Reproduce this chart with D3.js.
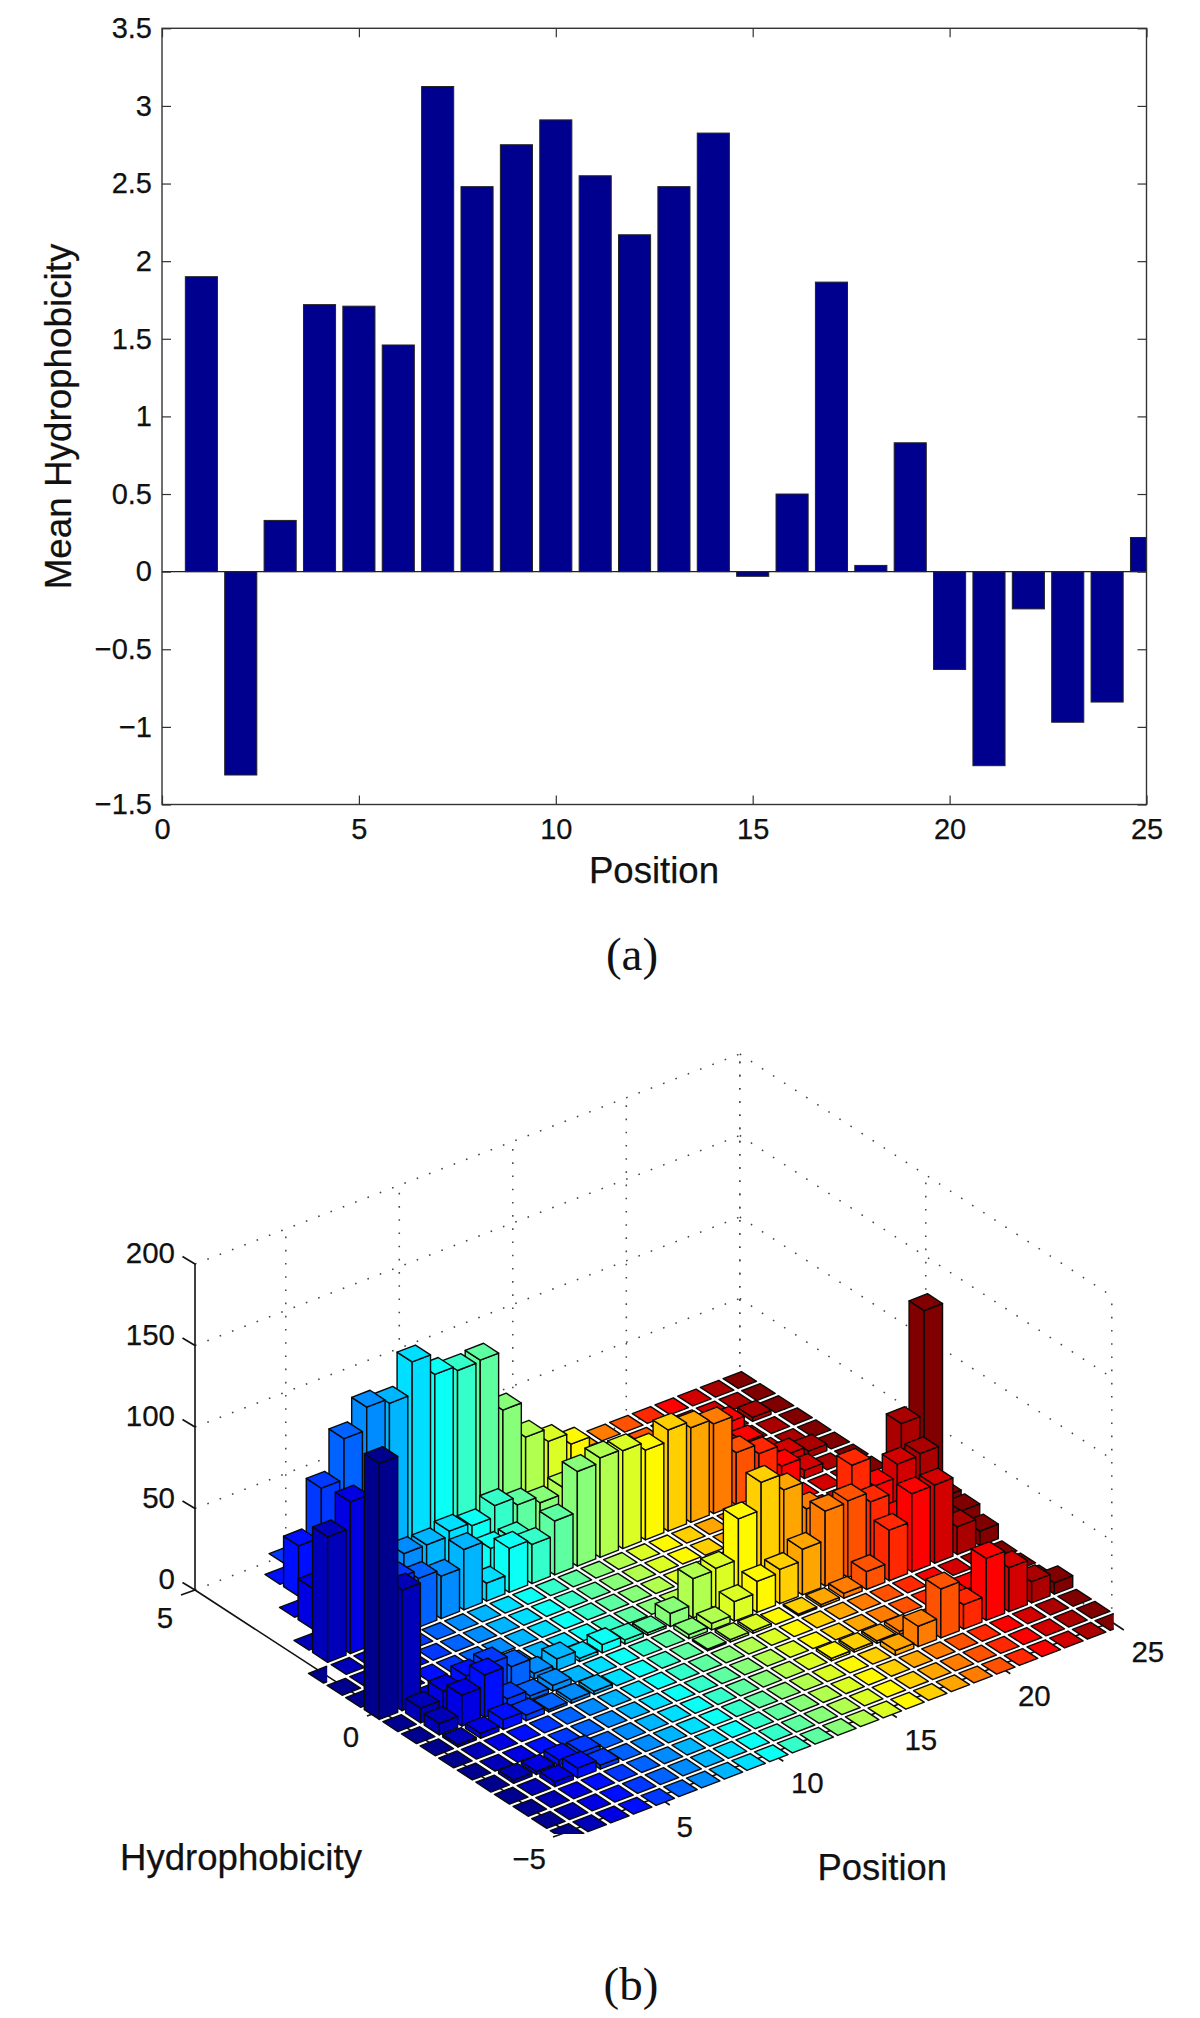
<!DOCTYPE html>
<html><head><meta charset="utf-8">
<style>html,body{margin:0;padding:0;background:#fff}svg{display:block}
text{font-family:"Liberation Sans",Arial,sans-serif;fill:#111;stroke:#111;stroke-width:0.25px}</style>
<script src="https://cdn.jsdelivr.net/npm/d3@7"></script></head>
<body><svg id="c" width="1200" height="2018"></svg>
<script>
// ---------- panel (a) data ----------
const positions = d3.range(1, 26);
const meanHydrophobicity = [1.90,-1.31,0.33,1.72,1.71,1.46,3.125,2.48,2.75,2.91,2.55,2.17,2.48,2.825,-0.03,0.50,1.865,0.04,0.83,-0.63,-1.25,-0.24,-0.97,-0.84,0.22];
const xTicksA = [0,5,10,15,20,25];
const yTicksA = [-1.5,-1,-0.5,0,0.5,1,1.5,2,2.5,3,3.5];

// ---------- panel (b) data: counts per position (1..25) for each hydrophobicity bin ----------
const hydroBins = d3.range(-5, 5.01, 0.5);
const countsH4   = [0,0,0,31,61,86,100,97,117,104,101,102,66,44,36,29,0,0,0,0,0,0,0,2.5,0];
const countsH3_5 = [0,0,0,0,0,0,0,0,0,0,0,0,0,0,0,0,0,0,0,0,0,17,0,0,0];
const countsH3   = [0,0,25,0,0,0,25,25,28,26,33,28,24,28,0,0,0,0,0,0,0,13,0,0,0];
const countsH2_5 = [0,0,0,0,0,0,0,0,0,19.5,20,0,0,0,0,0,0,0,0,0,0,0,7,4,0];
const countsH2   = [0,77,93,30,35,30,26,37,11,27,24,33,58,61,60,55,62,58,55,32,26,13,5,0,0];
const countsH0   = [157,74,0,0,0,0,0,0,0,0,0,0,0,0,0,0,0,0,0,0,0,0,0,58,122];
const countsHm0_5= [0,9,14,18,20,13,3.5,7,2,5,2.5,1.5,8,24,25,50,67,57,40,30,56,38,46,47,15];
const countsHm1  = [0,7,19,26,6,2.5,3.5,0,0,0,0,0,2.5,4,12,19,21,28,46,47,41,26,0,0,14];
const countsHm1_5= [0,1.5,3,6,3.5,1.5,2,2,0,0,0,0,1,1.5,1.5,0,1,1.5,3,11,31,48,48,17,9];
const countsHm3  = [0,2,2,3.5,3,0,0,0,0,0,0,0,0,0,0,1.5,1.5,1.5,2,0,0,12,0,0,0];
const countsHm3_5= [0,0,3,6,2.5,0,0,0,0,0,0,0,0,0,0,0,0,3,12.5,30,15,38,27,13,7];
const countTable = new Map([[4,countsH4],[3.5,countsH3_5],[3,countsH3],[2.5,countsH2_5],[2,countsH2],[0,countsH0],
  [-0.5,countsHm0_5],[-1,countsHm1],[-1.5,countsHm1_5],[-3,countsHm3],[-3.5,countsHm3_5]]);
// highest hydrophobicity bin that exists for the first positions
const topBinByPosition = new Map([[1,1.5],[2,2.5],[3,3.5],[4,4.5]]);
const zTicks = [0,50,100,150,200];
const posTicks = [5,10,15,20,25];
const hydroTicks = [-5,0,5];

const svg = d3.select("#c");
const minus = s => String(s).replace("-", "\u2212");

// ---------- panel (a) ----------
const ML=162, MR=1146.5, MT=28.3, MB=804.5;
const xA = d3.scaleLinear().domain([0,25]).range([ML,MR]);
const yA = d3.scaleLinear().domain([-1.5,3.5]).range([MB,MT]);
const gA = svg.append("g");
svg.append("defs").append("clipPath").attr("id","clipA").append("rect")
  .attr("x",ML).attr("y",MT).attr("width",MR-ML).attr("height",MB-MT);
const barW = 0.815;
gA.append("g").attr("clip-path","url(#clipA)").selectAll("rect").data(positions).join("rect")
  .attr("x",p=>xA(p-barW/2)).attr("width",xA(barW)-xA(0))
  .attr("y",(p,i)=>Math.min(yA(0),yA(meanHydrophobicity[i])))
  .attr("height",(p,i)=>Math.abs(yA(meanHydrophobicity[i])-yA(0)))
  .attr("fill","#00008f").attr("stroke","#222").attr("stroke-width",1);
gA.append("line").attr("x1",ML).attr("x2",MR).attr("y1",yA(0)).attr("y2",yA(0)).attr("stroke","#222").attr("stroke-width",1.3);
gA.append("rect").attr("x",ML).attr("y",MT).attr("width",MR-ML).attr("height",MB-MT)
  .attr("fill","none").attr("stroke","#333").attr("stroke-width",1.4);
function styleAxis(g,labels){
  g.select(".domain").remove();
  g.selectAll(".tick line").attr("stroke","#333").attr("stroke-width",1.2);
  if(labels) g.selectAll(".tick text").attr("font-size",29).attr("font-family",'"Liberation Sans"').attr("fill","#111");
  else g.selectAll(".tick text").remove();
}
gA.append("g").attr("transform",`translate(0,${MB})`)
  .call(d3.axisBottom(xA).tickValues(xTicksA).tickSize(-9).tickPadding(14).tickFormat(d=>d)).call(styleAxis,true);
gA.append("g").attr("transform",`translate(0,${MT})`)
  .call(d3.axisTop(xA).tickValues(xTicksA).tickSize(-9).tickFormat("")).call(styleAxis,false);
gA.append("g").attr("transform",`translate(${ML},0)`)
  .call(d3.axisLeft(yA).tickValues(yTicksA).tickSize(-9).tickPadding(10).tickFormat(d=>minus(d))).call(styleAxis,true);
gA.append("g").attr("transform",`translate(${MR},0)`)
  .call(d3.axisRight(yA).tickValues(yTicksA).tickSize(-9).tickFormat("")).call(styleAxis,false);
gA.append("text").attr("x",654).attr("y",883).attr("text-anchor","middle").attr("font-size",36.6).text("Position");
gA.append("text").attr("transform","translate(71,416.5) rotate(-90)").attr("text-anchor","middle").attr("font-size",36.8).text("Mean Hydrophobicity");
svg.append("text").attr("x",632).attr("y",970).attr("text-anchor","middle").attr("font-size",47).style("font-family",'"Liberation Serif"').style("stroke-width","0").text("(a)");
svg.append("text").attr("x",631).attr("y",2000).attr("text-anchor","middle").attr("font-size",47).style("font-family",'"Liberation Serif"').style("stroke-width","0").text("(b)");

// ---------- panel (b): oblique projection built from linear scales ----------
const ox=567, oy=1832;
const pX=d3.scaleLinear().domain([1,25]).range([0,544.8]), pY=d3.scaleLinear().domain([1,25]).range([0,-210]);
const hX=d3.scaleLinear().domain([-5,5]).range([0,-372]),  hY=d3.scaleLinear().domain([-5,5]).range([0,-242]);
const zY=d3.scaleLinear().domain([0,200]).range([0,-326]);
const proj=(p,h,z=0)=>[ox+pX(p)+hX(h), oy+pY(p)+hY(h)+zY(z)];
const jet=d3.scaleLinear().domain([1,8,24,40,56,64]).range(["#00008f","#0000ff","#00ffff","#ffff00","#ff0000","#800000"]);
const colorIdx=d3.scaleLinear().domain([1,25]).range([1,64]);
const line=d3.line();

const gB=svg.append("g");
const walls=gB.append("g").attr("fill","none").attr("stroke","#444").attr("stroke-width",1.5).attr("stroke-dasharray","1.6 11.6");
zTicks.forEach(z=>{
  walls.append("path").attr("d",line([proj(1,5,z),proj(25,5,z)]));
  walls.append("path").attr("d",line([proj(25,5,z),proj(25,-5,z)]));
});
posTicks.forEach(p=>walls.append("path").attr("d",line([proj(p,5,0),proj(p,5,200)])));
hydroTicks.forEach(h=>walls.append("path").attr("d",line([proj(25,h,0),proj(25,h,200)])));

const axes=gB.append("g").attr("fill","none").attr("stroke","#111").attr("stroke-width",1.6);
axes.append("path").attr("d",line([proj(1,5,0),proj(1,5,200)]));
axes.append("path").attr("d",line([proj(1,5,0),proj(1,-5,0)]));
axes.append("path").attr("d",line([proj(1,-5,0),proj(25,-5,0)]));
const tick=(pt,dx,dy)=>axes.append("path").attr("d",line([pt,[pt[0]+dx,pt[1]+dy]]));
zTicks.forEach(z=>tick(proj(1,5,z),-12.5,-7.5));
hydroTicks.forEach(h=>tick(proj(1,h,0),-14,5));
posTicks.forEach(p=>tick(proj(p,-5,0),12,8));

// bars, back to front
const bars=[];
positions.forEach((p,i)=>hydroBins.forEach(h=>{
  const top=topBinByPosition.has(p)?topBinByPosition.get(p):5;
  if(h>top) return;
  const row=countTable.get(h);
  bars.push({p,h,z:row?row[i]:0});
}));
const w=0.405, wh=w*0.5;
bars.sort((a,b)=>d3.ascending(proj(a.p,a.h)[1],proj(b.p,b.h)[1]));
const defs=svg.select("defs");
// tiles cut off at the axis limits
const cuts=[
  {p:1,h:1.5,dim:"x"},
  {p:25,h:-5,dim:"x"},
  {p:1,h:-5,dim:"y"}
];
cuts.forEach((c,i)=>{
  const ctr=proj(c.p,c.h);
  c.id="cut"+i;
  const r=defs.append("clipPath").attr("id",c.id).append("rect");
  if(c.dim==="x") r.attr("x",ctr[0]-60).attr("y",ctr[1]-60).attr("width",60+2).attr("height",120);
  else r.attr("x",ctr[0]-60).attr("y",ctr[1]-60).attr("width",120).attr("height",60+2);
});
const gBars=gB.append("g").attr("stroke","#0a0a0a").attr("stroke-width",1.4).attr("stroke-linejoin","round");
bars.forEach(b=>{
  const col=jet(colorIdx(b.p));
  const cut=cuts.find(c=>c.p===b.p&&c.h===b.h);
  const g=gBars.append("g").attr("fill",col);
  if(cut) g.attr("clip-path",`url(#${cut.id})`);
  const L=z=>proj(b.p-w,b.h+wh,z), T=z=>proj(b.p+w,b.h+wh,z), R=z=>proj(b.p+w,b.h-wh,z), F=z=>proj(b.p-w,b.h-wh,z);
  if(b.z>0){
    g.append("path").attr("d",line([L(0),F(0),F(b.z),L(b.z)])+"Z");
    g.append("path").attr("d",line([F(0),R(0),R(b.z),F(b.z)])+"Z");
  }
  g.append("path").attr("d",line([L(b.z),T(b.z),R(b.z),F(b.z)])+"Z");
});

// text of panel (b)
const tl=gB.append("g").attr("font-size",29.5);
zTicks.forEach(z=>{const q=proj(1,5,z); tl.append("text").attr("x",q[0]-20).attr("y",q[1]-1).attr("text-anchor","end").text(z);});
hydroTicks.forEach(h=>{const q=proj(1,h,0); tl.append("text").attr("x",q[0]+(h===5?-30:h===0?-30:-38)).attr("y",q[1]+(h===5?38:h===0?36:37)).attr("text-anchor","middle").text(minus(h));});
posTicks.forEach(p=>{const q=proj(p,-5,0); tl.append("text").attr("x",q[0]+ (p===5?27:36)).attr("y",q[1]+40).attr("text-anchor","middle").text(p);});
gB.append("text").attr("x",120).attr("y",1870).attr("font-size",36.6).text("Hydrophobicity");
gB.append("text").attr("x",817.5).attr("y",1880).attr("font-size",36.4).text("Position");
</script></body></html>
